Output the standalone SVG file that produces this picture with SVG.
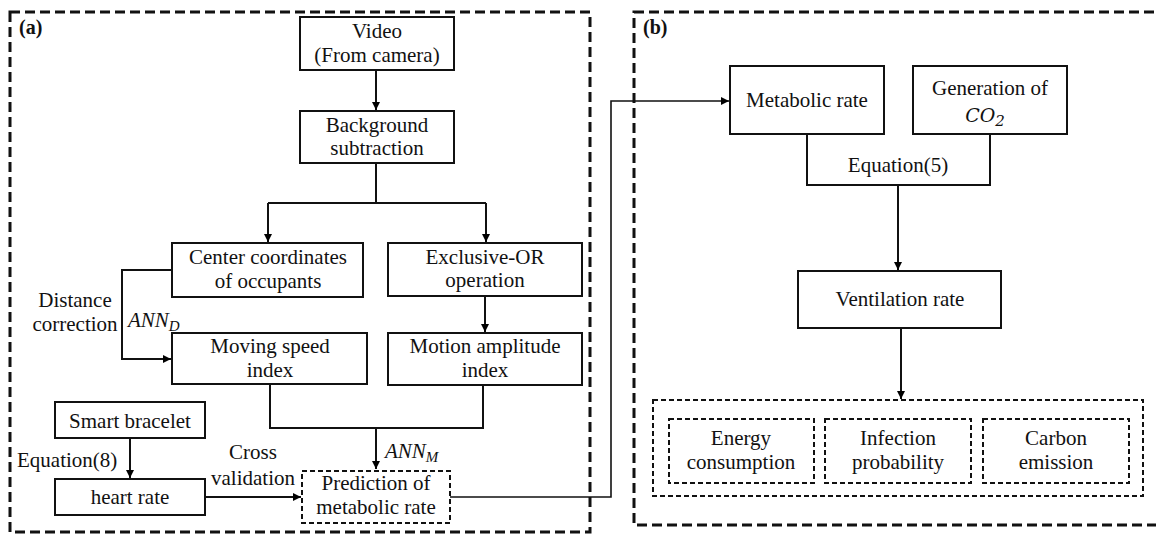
<svg xmlns="http://www.w3.org/2000/svg" width="1156" height="534" viewBox="0 0 1156 534">
<defs>
<marker id="ah" viewBox="0 0 10 10" refX="10" refY="5" markerWidth="9" markerHeight="8" markerUnits="userSpaceOnUse" orient="auto">
<path d="M0,0 L10,5 L0,10 z" fill="#000"/>
</marker>
</defs>
<style>
text{font-family:'Liberation Serif','Tinos','Noto Serif','DejaVu Serif',serif;font-size:21px;fill:#111;text-anchor:middle}
.lbl{font-weight:bold;text-anchor:start;font-size:20px}
.math{font-style:italic}
.sub{font-size:15px;font-style:italic}
.box{fill:#fff;stroke:#111;stroke-width:2}
.dbox{fill:#fff;stroke:#111;stroke-width:2;stroke-dasharray:5,3}
.panel{fill:none;stroke:#111;stroke-width:3;stroke-dasharray:10,5}
.ln{fill:none;stroke:#111;stroke-width:2}
.arr{fill:none;stroke:#111;stroke-width:2;marker-end:url(#ah)}
</style>
<rect width="1156" height="534" fill="#fff"/>
<g id="panels">
<rect class="panel" x="10" y="12" width="580" height="520"/>
<rect class="panel" x="634" y="12" width="560" height="513"/>
<text class="lbl" x="19" y="34" font-family="Liberation Serif, serif">(a)</text>
<text class="lbl" x="643" y="34">(b)</text>
</g>
<g id="connectors">
<path class="arr" d="M376,70 V110"/>
<path class="ln" d="M376,163 V203"/>
<path class="ln" d="M268,203 H486"/>
<path class="arr" d="M268,203 V242"/>
<path class="arr" d="M486,203 V242"/>
<path class="arr" d="M485,296 V332"/>
<path class="arr" d="M172,270 H122 V359 H171"/>
<path class="ln" d="M270,384 V428 H483 V385"/>
<path class="arr" d="M376,428 V469"/>
<path class="arr" d="M130,438 V478"/>
<path class="arr" d="M205,497 H301"/>
<path class="arr" d="M450,497 H611 V101 H729" style="stroke-width:1.6"/>
<path class="ln" d="M807,134 V185 H990 V134"/>
<path class="arr" d="M898,185 V270"/>
<path class="arr" d="M901,328 V399"/>
</g>
<g id="video">
<rect class="box" x="300" y="17" width="154" height="53"/>
<text x="377" y="38">Video</text>
<text x="377" y="62">(From camera)</text>
</g>
<g id="background">
<rect class="box" x="300" y="111" width="154" height="52"/>
<text x="377" y="132">Background</text>
<text x="377" y="155">subtraction</text>
</g>
<g id="center">
<rect class="box" x="172" y="243" width="191" height="54"/>
<text x="268" y="264">Center coordinates</text>
<text x="268" y="288">of occupants</text>
</g>
<g id="xor">
<rect class="box" x="388" y="243" width="194" height="53"/>
<text x="485" y="264">Exclusive-OR</text>
<text x="485" y="287">operation</text>
</g>
<g id="distance-label">
<text x="75" y="307">Distance</text>
<text x="75" y="331">correction</text>
<text class="math" x="128" y="327" style="text-anchor:start">ANN<tspan class="sub" dy="4">D</tspan></text>
</g>
<g id="moving">
<rect class="box" x="172" y="333" width="195" height="51"/>
<text x="270" y="353">Moving speed</text>
<text x="270" y="377">index</text>
</g>
<g id="motion">
<rect class="box" x="388" y="333" width="194" height="52"/>
<text x="485" y="353">Motion amplitude</text>
<text x="485" y="377">index</text>
</g>
<g id="ann-m">
<text class="math" x="385" y="458" style="text-anchor:start">ANN<tspan class="sub" dy="4">M</tspan></text>
</g>
<g id="bracelet">
<rect class="box" x="55" y="402" width="150" height="36"/>
<text x="130" y="428">Smart bracelet</text>
</g>
<g id="eq8">
<text x="17" y="467" style="text-anchor:start">Equation(8)</text>
</g>
<g id="heart">
<rect class="box" x="55" y="479" width="150" height="36"/>
<text x="130" y="504">heart rate</text>
</g>
<g id="cross">
<text x="253" y="459">Cross</text>
<text x="253" y="485">validation</text>
</g>
<g id="prediction">
<rect class="dbox" x="302" y="471" width="148" height="52"/>
<text x="376" y="490">Prediction of</text>
<text x="376" y="514">metabolic rate</text>
</g>
<g id="metabolic">
<rect class="box" x="730" y="66" width="154" height="68"/>
<text x="807" y="107">Metabolic rate</text>
</g>
<g id="co2">
<rect class="box" x="913" y="66" width="154" height="68"/>
<text x="990" y="95">Generation of</text>
<text class="math" x="985" y="122" style="font-family:'DejaVu Serif','Liberation Serif',serif;font-size:19px">CO<tspan class="sub" dy="4">2</tspan></text>
</g>
<g id="eq5">
<text x="898" y="172">Equation(5)</text>
</g>
<g id="ventilation">
<rect class="box" x="798" y="271" width="203" height="57"/>
<text x="900" y="306">Ventilation rate</text>
</g>
<g id="outcomes">
<rect class="dbox" x="653" y="400" width="490" height="96"/>
</g>
<g id="energy">
<rect class="dbox" x="669" y="419" width="145" height="64"/>
<text x="741" y="445">Energy</text>
<text x="741" y="469">consumption</text>
</g>
<g id="infection">
<rect class="dbox" x="825" y="419" width="146" height="64"/>
<text x="898" y="445">Infection</text>
<text x="898" y="469">probability</text>
</g>
<g id="carbon">
<rect class="dbox" x="983" y="419" width="146" height="64"/>
<text x="1056" y="445">Carbon</text>
<text x="1056" y="469">emission</text>
</g>
</svg>
